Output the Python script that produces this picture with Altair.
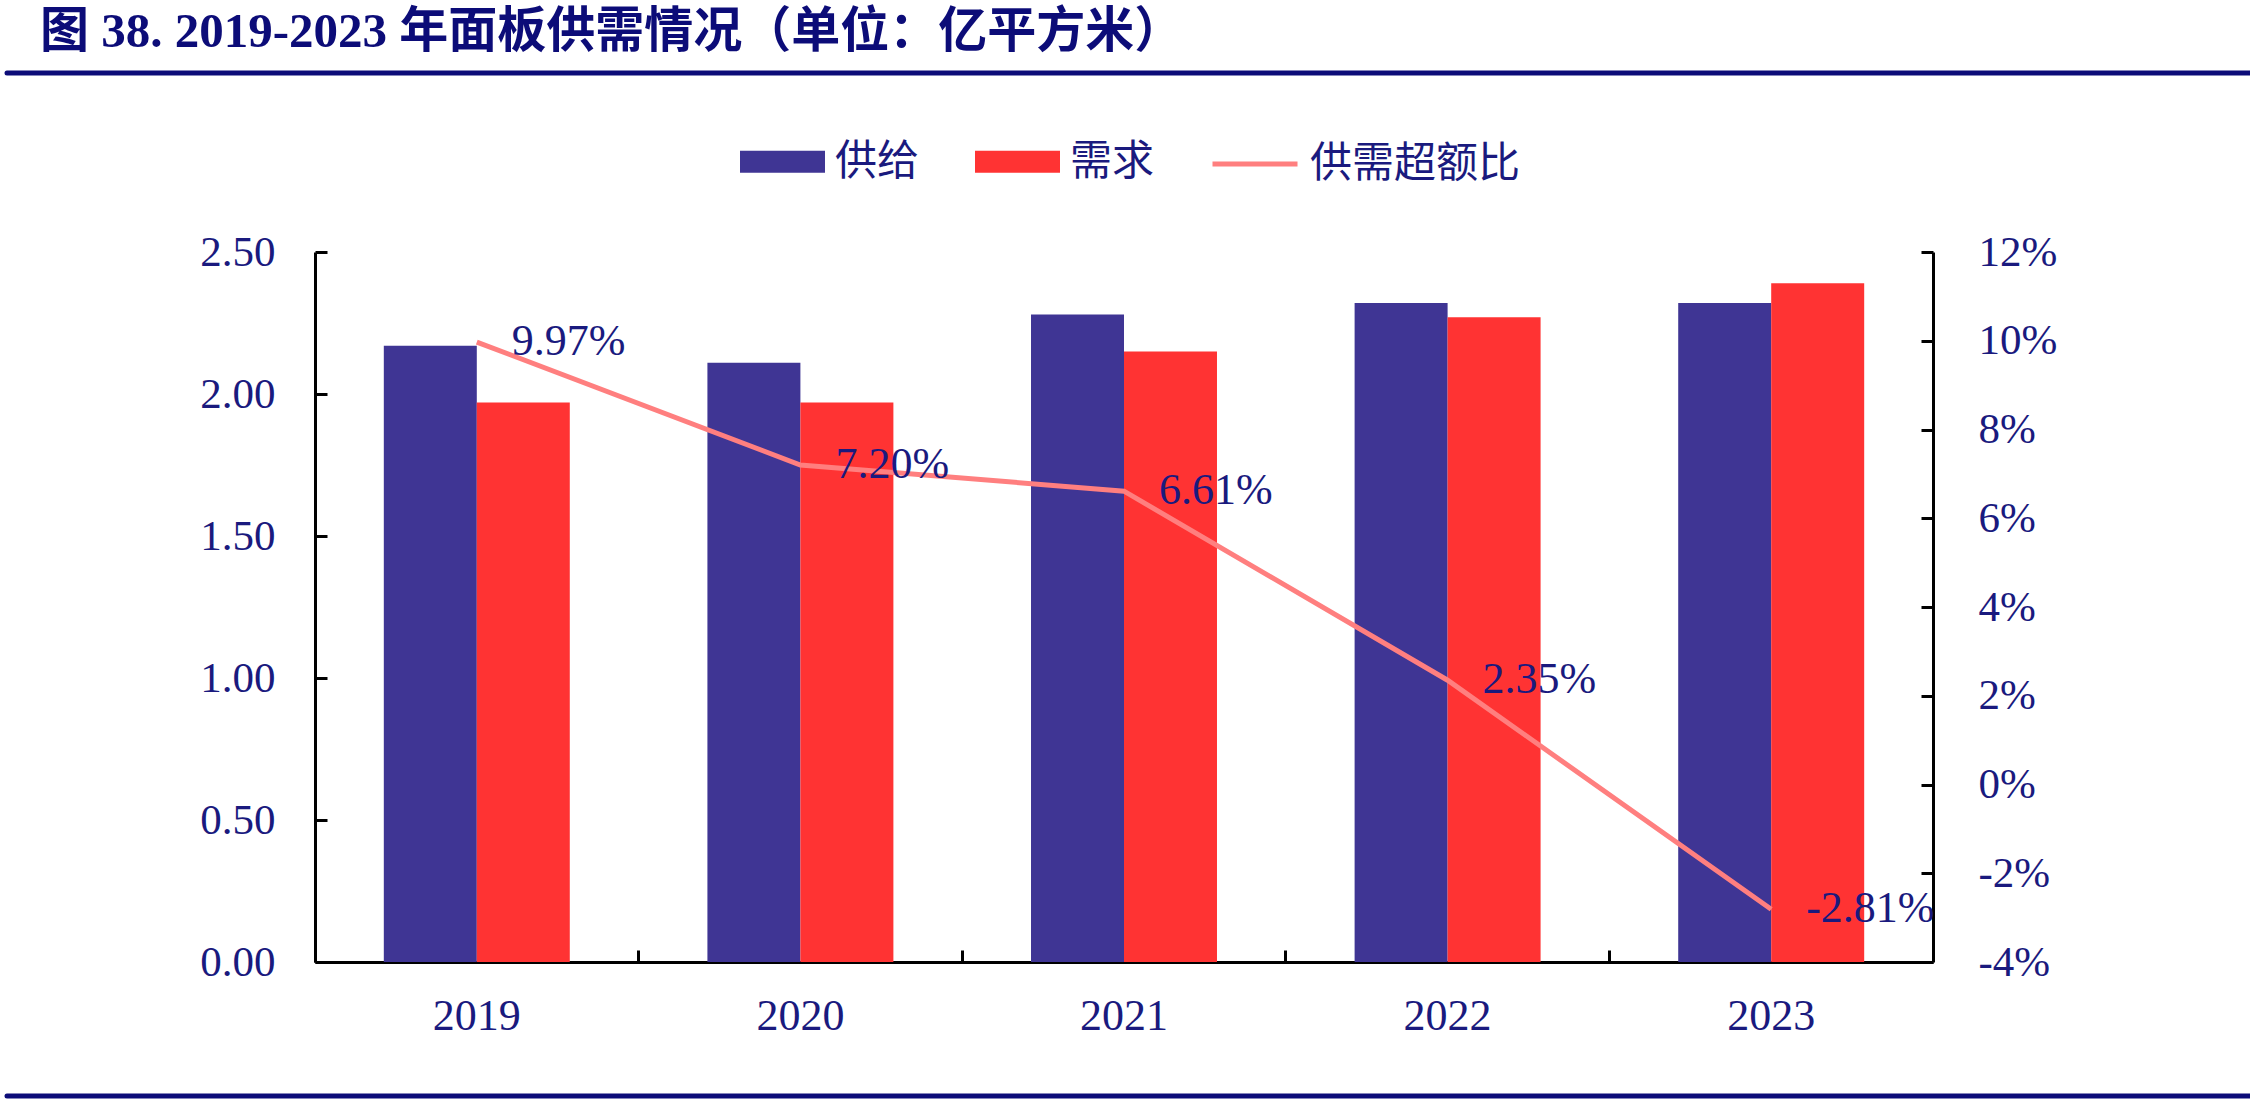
import altair as alt
import pandas as pd

# ---- data ----
years = ["2019", "2020", "2021", "2022", "2023"]
supply = [2.17, 2.11, 2.28, 2.32, 2.32]
demand = [1.97, 1.97, 2.15, 2.27, 2.39]
ratio = [9.97, 7.20, 6.61, 2.35, -2.81]
series_names = ["供给", "需求"]
ratio_name = "供需超额比"
left_ticks = [0, 0.5, 1.0, 1.5, 2.0, 2.5]
right_ticks = [-4, -2, 0, 2, 4, 6, 8, 10, 12]
title_text = "图 38. 2019-2023 年面板供需情况（单位：亿平方米）"

bars_df = pd.DataFrame({
    "year": years * 2,
    "series": [series_names[0]] * len(years) + [series_names[1]] * len(years),
    "value": supply + demand,
})
line_df = pd.DataFrame({"year": years, "ratio": ratio, "name": [ratio_name] * len(years)})
one_df = pd.DataFrame({"t": [title_text]})

SERIF = "Liberation Serif"
CJK = '"Noto Sans CJK SC"'
TXT = "#1a1a7e"
NAVY = "#3F3594"
RED = "#FF3333"
PINK = "#FF7F7F"
LINE_NAVY = "#0c0c78"

W, H = 1618, 710
PL, PT = 315, 252

x_scale = alt.Scale(domain=years, paddingInner=0, paddingOuter=0)
yl_scale = alt.Scale(domain=[0, 2.5], nice=False, zero=True)
yr_scale = alt.Scale(domain=[-4, 12], nice=False, zero=False)

bars = alt.Chart(bars_df).mark_bar().encode(
    x=alt.X("year:N", scale=x_scale, sort=years,
            axis=alt.Axis(orient="bottom", title=None, labelAngle=0, labelFont=SERIF,
                          labelFontSize=44, labelColor=TXT, labelPadding=32, ticks=False,
                          domain=True, domainColor="black", domainWidth=3, grid=False)),
    xOffset=alt.XOffset("series:N", sort=series_names,
                        scale=alt.Scale(domain=series_names, paddingInner=0, paddingOuter=0.74)),
    y=alt.Y("value:Q", scale=yl_scale,
            axis=alt.Axis(orient="left", title=None, values=left_ticks, format=".2f",
                          domain=False, ticks=True, tickSize=12, tickWidth=3, tickColor="black",
                          offset=-12, labelPadding=40, labelFont=SERIF, labelFontSize=43,
                          labelColor=TXT, grid=False)),
    color=alt.Color("series:N", sort=series_names,
                    scale=alt.Scale(domain=series_names, range=[NAVY, RED]),
                    legend=alt.Legend(orient="none", legendX=425, legendY=-133,
                                      direction="horizontal", title=None,
                                      symbolType="M-1,-0.26H1V0.26H-1Z", symbolSize=7225,
                                      symbolStrokeWidth=0, symbolOpacity=1,
                                      labelFont=CJK, labelFontSize=42, labelColor=TXT,
                                      labelOffset=10, columnPadding=55, labelLimit=500)),
)

line = alt.Chart(line_df).mark_line(strokeWidth=5).encode(
    x=alt.X("year:N", scale=x_scale, sort=years,
            axis=alt.Axis(orient="bottom", title=None, bandPosition=0, labels=False,
                          domain=False, ticks=True, tickSize=12, tickWidth=3,
                          tickColor="black", offset=-12, grid=False)),
    y=alt.Y("ratio:Q", scale=yr_scale,
            axis=alt.Axis(orient="right", title=None, values=right_ticks,
                          labelExpr="datum.value + '%'", domain=False, ticks=True,
                          tickSize=12, tickWidth=3, tickColor="black", offset=-12,
                          labelPadding=45, labelFont=SERIF, labelFontSize=43,
                          labelColor=TXT, grid=False)),
    stroke=alt.Stroke("name:N", scale=alt.Scale(domain=[ratio_name], range=[PINK]),
                      legend=alt.Legend(orient="none", legendX=895, legendY=-133,
                                        direction="horizontal", title=None,
                                        symbolType="stroke", symbolSize=7225,
                                        symbolStrokeWidth=5, labelFont=CJK,
                                        labelFontSize=42, labelColor=TXT, labelOffset=10,
                                        labelLimit=500)),
)

labels = alt.Chart(line_df).transform_calculate(
    lbl="(datum.ratio < 0 ? '-' : '') + format(abs(datum.ratio), '.2f') + '%'"
).mark_text(align="left", baseline="middle", dx=35, fontSize=44, font=SERIF, color=TXT).encode(
    x=alt.X("year:N", scale=x_scale, sort=years, axis=None),
    y=alt.Y("ratio:Q", scale=yr_scale, axis=None),
    text="lbl:N",
)

ldom = alt.Chart(bars_df).mark_point(opacity=0).encode(
    y=alt.Y("value:Q", scale=yl_scale,
            axis=alt.Axis(orient="left", title=None, domain=True, domainColor="black",
                          domainWidth=3, ticks=False, labels=False, grid=False)),
)
rdom = alt.Chart(line_df).mark_point(opacity=0).encode(
    y=alt.Y("ratio:Q", scale=yr_scale,
            axis=alt.Axis(orient="right", title=None, domain=True, domainColor="black",
                          domainWidth=3, ticks=False, labels=False, grid=False)),
)

title = alt.Chart(one_df).mark_text(
    align="left", baseline="middle", fontSize=49, fontWeight="bold",
    font='Liberation Serif, "Noto Sans CJK SC"', color=LINE_NAVY,
).encode(x=alt.value(40 - PL), y=alt.value(32 - PT), text="t:N")

top_rule = alt.Chart(one_df).mark_rule(color=LINE_NAVY, strokeWidth=5, strokeCap="round").encode(
    x=alt.value(7 - PL), x2=alt.value(2250 - PL), y=alt.value(73 - PT))
bot_rule = alt.Chart(one_df).mark_rule(color=LINE_NAVY, strokeWidth=5, strokeCap="round").encode(
    x=alt.value(7 - PL), x2=alt.value(2250 - PL), y=alt.value(1096 - PT))

chart = alt.layer(ldom, rdom, bars, line, labels, title, top_rule, bot_rule).resolve_scale(
    y="independent", color="independent", stroke="independent"
).resolve_axis(x="independent", y="independent").properties(
    width=W, height=H,
    padding={"left": PL, "top": PT, "right": 2250 - PL - W, "bottom": 1104 - PT - H},
    autosize=alt.AutoSizeParams(type="none"),
    background="white",
).configure_view(stroke=None)

chart.save("out.html", embed_options={"renderer": "svg", "actions": False})
